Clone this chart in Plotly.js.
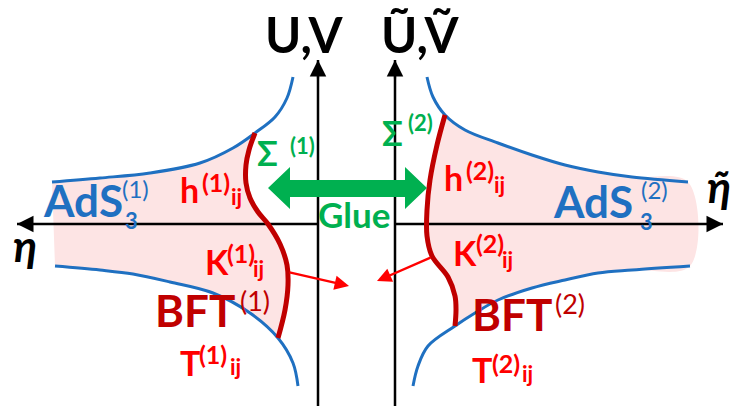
<!DOCTYPE html>
<html>
<head>
<meta charset="utf-8">
<script src="https://cdn.plot.ly/plotly-3.0.1.min.js"></script>
<style>html,body{margin:0;padding:0;background:#fff;}#chart{width:730px;height:406px;}</style>
</head>
<body>
<div id="chart"></div>
<script>
// ---- data (pixel units, y downward) ----
// AdS boundary hyperbolas (blue)
const luX = [52, 100, 150, 200, 233, 255, 275, 287, 293];
const luY = [182, 178, 173, 163, 148, 133, 117, 98, 77];
const llX = [55, 100, 133, 170, 213, 250, 278, 293, 298];
const llY = [266, 270, 274, 282, 293, 313, 338, 363, 386];
const ruX = [427, 433, 445, 465, 498, 532, 565, 598, 632, 688];
const ruY = [77, 97, 115, 130, 143, 155, 165, 172, 177, 182];
const rlX = [413, 418, 428, 455, 475, 498, 532, 565, 598, 632, 690];
const rlY = [386, 366, 346, 326, 313, 300, 288, 280, 273, 270, 266];
// branes Sigma (dark red)
const redLX = [255, 249, 246, 246, 250, 258, 268, 280, 287, 288, 285, 278];
const redLY = [133, 150, 165, 183, 198, 212, 224, 244, 265, 285, 310, 338];
const redRX = [445, 437, 430, 427, 427, 432, 448, 455, 456, 455];
const redRY = [115, 145, 180, 210, 236, 256, 277, 296, 310, 326];
// glue double arrow outline
const glueX = [268, 290, 290, 405, 405, 427, 405, 405, 290, 290];
const glueY = [188, 167, 180, 180, 167, 188, 209, 197, 197, 209];
// axes: [x0, y0, x1(tip), y1(tip)]
const axesLines = [[318, 406, 318, 60], [395, 406, 395, 60], [318, 224, 17, 224], [395, 224, 723, 224]];
// normal-vector arrows K
const kArrows = [[288, 272, 349, 286], [432, 257, 377, 281]];

const BLUE = '#1F70C1', DRED = '#C00000', RED = '#FF0000', GREEN = '#00B050', PINK = '#FDE4E4';
const FONT = 'Lato, "Liberation Sans", Arial, sans-serif';

const leftFillX = luX.slice(0, 6).concat(redLX.slice(1), llX.slice(0, 7).reverse());
const leftFillY = luY.slice(0, 6).concat(redLY.slice(1), llY.slice(0, 7).reverse());
const rightFillX = ruX.slice(2).concat(rlX.slice(3).reverse(), redRX.slice().reverse().slice(1, -1));
const rightFillY = ruY.slice(2).concat(rlY.slice(3).reverse(), redRY.slice().reverse().slice(1, -1));

const traces = [];
traces.push({x: leftFillX, y: leftFillY, mode: 'lines', fill: 'toself', fillcolor: PINK, line: {width: 0, shape: 'spline'}, hoverinfo: 'skip'});
traces.push({x: rightFillX, y: rightFillY, mode: 'lines', fill: 'toself', fillcolor: PINK, line: {width: 0, shape: 'spline'}, hoverinfo: 'skip'});
[[luX, luY], [llX, llY], [ruX, ruY], [rlX, rlY]].forEach(c => {
  traces.push({x: c[0], y: c[1], mode: 'lines', line: {color: BLUE, width: 3, shape: 'spline'}, hoverinfo: 'skip'});
});
axesLines.forEach(a => {
  traces.push({x: [a[0], a[2]], y: [a[1], a[3]], mode: 'lines', line: {color: '#000', width: 2.5}, hoverinfo: 'skip'});
});
[[redLX, redLY], [redRX, redRY]].forEach(c => {
  traces.push({x: c[0], y: c[1], mode: 'lines', line: {color: DRED, width: 5, shape: 'spline'}, hoverinfo: 'skip'});
});
traces.push({x: glueX, y: glueY, mode: 'lines', fill: 'toself', fillcolor: GREEN, line: {width: 0}, hoverinfo: 'skip'});

const ann = [];
function T(text, x, y, size, color, opt) {
  opt = opt || {};
  ann.push({text: text, x: x, y: y, xref: 'x', yref: 'y', showarrow: false,
    xanchor: opt.xa || 'left', yanchor: opt.ya || 'middle',
    font: {family: FONT, size: size, color: color, weight: opt.w === undefined ? 700 : opt.w, style: opt.st || 'normal'}});
}
// axis arrowheads
axesLines.forEach(a => {
  const dx = a[2] - a[0], dy = a[3] - a[1], L = Math.hypot(dx, dy);
  ann.push({x: a[2], y: a[3], ax: a[2] - dx / L * 20, ay: a[3] - dy / L * 20, axref: 'x', ayref: 'y', xref: 'x', yref: 'y',
    text: '', showarrow: true, arrowhead: 2, arrowsize: 1.5, arrowwidth: 2.2, arrowcolor: '#000', standoff: 0});
});
kArrows.forEach(a => {
  ann.push({x: a[2], y: a[3], ax: a[0], ay: a[1], axref: 'x', ayref: 'y', xref: 'x', yref: 'y',
    text: '', showarrow: true, arrowhead: 2, arrowsize: 1.2, arrowwidth: 2.4, arrowcolor: RED, standoff: 0});
});

// axis labels
T('U,V', 304, 34, 49, '#000', {xa: 'center'});
T('Ũ,Ṽ', 420, 34, 49, '#000', {xa: 'center'});
T('η', 25, 245, 44, '#000', {xa: 'center', st: 'italic'});
T('η\u0303', 705, 186, 44, '#000', {st: 'italic'});

// Glue & Sigma
T('Glue', 354, 214, 35, GREEN, {xa: 'center'});
T('Σ', 255, 152, 34, GREEN);
T('(1)', 288, 145, 22, GREEN);
T('Σ', 380, 132, 34, GREEN);
T('(2)', 406, 122, 22, GREEN);

// AdS labels (stacked superscript / subscript)
T('AdS', 41, 200, 44, BLUE);
T('(1)', 120, 205, 24, BLUE, {w: 400, ya: 'bottom'});
T('3', 123, 205, 22, BLUE, {ya: 'top'});
T('AdS', 551, 201, 44, BLUE);
T('(2)', 639, 206, 24, BLUE, {w: 400, ya: 'bottom'});
T('3', 638, 206, 22, BLUE, {ya: 'top'});

// h, K, T
function HKT(letter, x, y, xs, ys, xi, yi, sup) {
  T(letter, x, y, 34, RED);
  T(sup, xs, ys, 25, RED);
  T('ij', xi, yi, 22, RED);
}
HKT('h', 178, 189, 200, 182, 229, 196, '(1)');
HKT('h', 442, 177, 464, 170, 492, 184, '(2)');
HKT('K', 203, 261.5, 225, 253, 251, 268, '(1)');
HKT('K', 451, 252, 474, 243, 500, 259, '(2)');
HKT('T', 178, 362.5, 197, 353.5, 228, 366.5, '(1)');
HKT('T', 470, 369.5, 490, 362.5, 520, 373.5, '(2)');

// BFT
T('BFT', 153, 310, 44, DRED);
T('(1)', 238, 300, 27, DRED, {w: 400});
T('BFT', 470, 314, 44, DRED);
T('(2)', 553, 303, 27, DRED, {w: 400});

const layout = {
  width: 730, height: 406, margin: {l: 0, r: 0, t: 0, b: 0},
  paper_bgcolor: '#fff', plot_bgcolor: '#fff', showlegend: false,
  xaxis: {range: [0, 730], visible: false, fixedrange: true},
  yaxis: {range: [406, 0], visible: false, fixedrange: true},
  annotations: ann
};
Plotly.newPlot('chart', traces, layout, {displayModeBar: false, staticPlot: true});
</script>
</body>
</html>
